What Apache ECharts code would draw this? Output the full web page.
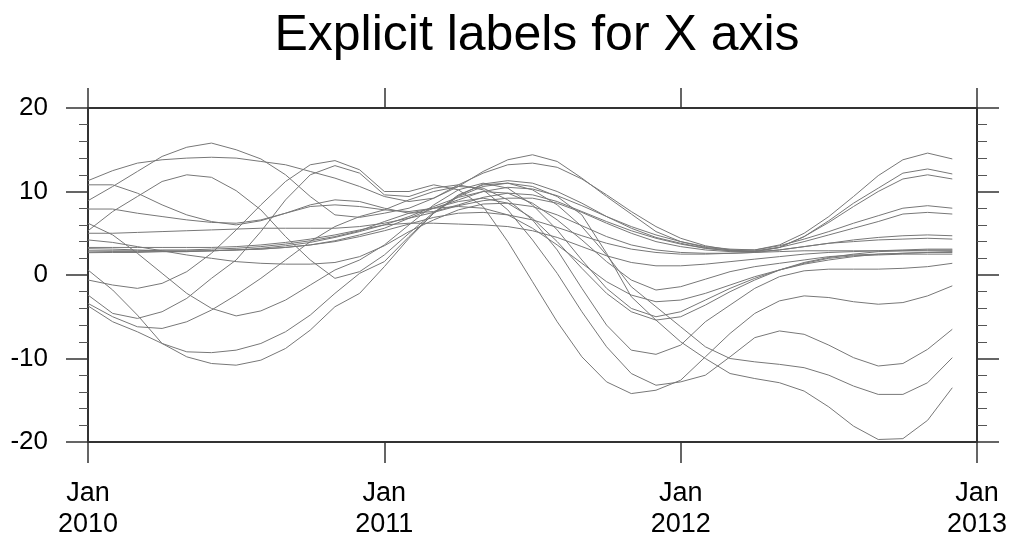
<!DOCTYPE html>
<html>
<head>
<meta charset="utf-8">
<script src="https://cdn.jsdelivr.net/npm/echarts@6/dist/echarts.min.js"></script>
<style>
  html, body { margin: 0; background: #fff; }
  #chart { width: 1016px; height: 544px; }
</style>
</head>
<body>
<div id="chart"></div>
<script>
// x ticks every 12 months, Jan 2010 .. Jan 2013
const tickLabels = ["Jan\n2010", "Jan\n2011", "Jan\n2012", "Jan\n2013"];

// monthly values, Jan 2010 .. Dec 2012 (36 each)
const line01 = [11.3, 12.5, 13.4, 13.8, 14.0, 14.1, 14.0, 13.6, 13.2, 12.4, 11.6, 10.6, 9.4, 8.8, 9.2, 10.6, 12.4, 13.8, 14.4, 13.6, 11.6, 9.4, 7.3, 5.2, 4.0, 3.3, 3.0, 3.0, 3.6, 5.0, 7.0, 9.4, 11.9, 13.8, 14.6, 13.9];
const line02 = [8.9, 10.6, 12.4, 14.2, 15.3, 15.8, 15.0, 13.9, 12.0, 9.4, 7.2, 6.9, 7.4, 8.0, 9.2, 10.8, 12.2, 13.2, 13.4, 12.9, 11.5, 9.6, 7.6, 5.8, 4.4, 3.5, 3.0, 2.8, 3.3, 4.6, 6.5, 8.6, 10.4, 12.2, 12.7, 12.1];
const line03 = [5.3, 7.6, 9.4, 11.2, 12.0, 11.7, 10.1, 7.8, 4.6, 1.8, -0.4, 0.4, 2.4, 5.0, 7.5, 9.5, 10.9, 11.3, 11.0, 10.0, 8.6, 7.0, 5.6, 4.5, 3.8, 3.2, 2.9, 2.8, 3.3, 4.6, 6.3, 8.2, 10.0, 11.5, 12.0, 11.5];
const line04 = [10.8, 10.8, 9.8, 8.4, 7.2, 6.4, 6.0, 6.5, 7.4, 8.2, 8.4, 8.2, 7.8, 7.6, 8.0, 9.0, 10.0, 10.5, 10.3, 9.5, 8.3, 7.0, 5.8, 4.8, 4.0, 3.4, 3.1, 3.0, 3.5, 4.3, 5.2, 6.2, 7.1, 8.0, 8.3, 8.0];
const line05 = [7.9, 7.9, 7.4, 7.0, 6.6, 6.3, 6.2, 6.6, 7.4, 8.4, 9.0, 8.8, 8.0, 7.4, 7.6, 8.4, 9.3, 9.8, 9.6, 8.8, 7.6, 6.4, 5.3, 4.4, 3.7, 3.2, 2.9, 2.9, 3.3, 4.0, 4.8, 5.6, 6.4, 7.3, 7.5, 7.3];
const line06 = [5.0, 5.0, 5.1, 5.2, 5.3, 5.4, 5.5, 5.6, 5.6, 5.6, 5.6, 5.8, 6.2, 6.8, 7.5, 8.3, 8.9, 9.2, 9.2, 8.6, 7.5, 6.2, 5.0, 4.0, 3.4, 3.0, 2.8, 2.8, 3.0, 3.4, 3.8, 4.2, 4.5, 4.7, 4.8, 4.7];
const line07 = [4.2, 3.9, 3.4, 2.9, 2.4, 2.0, 1.6, 1.4, 1.3, 1.3, 1.5, 2.2, 3.5, 5.2, 6.6, 7.8, 8.5, 8.6, 8.2, 7.2, 5.9, 4.6, 3.6, 3.0, 2.7, 2.6, 2.6, 2.7, 3.0, 3.4, 3.8, 4.0, 4.2, 4.3, 4.4, 4.3];
const line08 = [3.3, 3.3, 3.3, 3.3, 3.3, 3.3, 3.4, 3.6, 3.9, 4.3, 4.8, 5.4, 6.0, 6.2, 6.2, 6.1, 6.0, 5.8, 5.3, 4.5, 3.4, 2.3, 1.5, 1.1, 1.1, 1.3, 1.6, 1.9, 2.2, 2.5, 2.7, 2.8, 2.9, 3.0, 3.1, 3.1];
const line09 = [3.15, 3.1, 3.0, 2.9, 2.9, 2.9, 3.0, 3.1, 3.3, 3.6, 4.0, 4.6, 5.3, 6.1, 6.9, 7.4, 7.5, 7.2, 6.6, 5.7, 4.7, 3.8, 3.1, 2.7, 2.5, 2.5, 2.6, 2.7, 2.8, 2.9, 2.9, 2.9, 2.9, 2.9, 2.9, 2.9];
const line10 = [2.75, 2.8, 2.8, 2.8, 2.8, 2.9, 3.0, 3.2, 3.5, 3.9, 4.5, 5.2, 6.0, 7.0, 8.2, 9.3, 10.0, 9.8, 8.6, 6.6, 4.2, 1.6, -0.6, -1.8, -1.4, -0.5, 0.4, 1.0, 1.4, 1.8, 2.2, 2.4, 2.5, 2.6, 2.7, 2.7];
const line11 = [6.2, 4.8, 2.6, 0.2, -2.2, -4.0, -4.9, -4.3, -3.0, -1.2, 0.6, 1.8, 3.6, 6.0, 8.4, 10.2, 11.0, 10.4, 8.4, 5.4, 1.8, -1.6, -4.0, -5.0, -4.4, -3.0, -1.6, -0.4, 0.6, 1.4, 2.0, 2.3, 2.4, 2.5, 2.5, 2.5];
const line12 = [-3.4, -5.0, -6.2, -6.4, -5.6, -4.2, -2.4, -0.4, 1.8, 4.0, 5.8, 7.0, 7.8, 9.0, 10.0, 10.6, 10.4, 9.0, 6.6, 3.0, -1.6, -6.0, -9.0, -9.5, -8.4, -5.6, -3.6, -1.6, -0.2, 0.5, 0.7, 0.7, 0.7, 0.8, 1.0, 1.4];
const line13 = [-0.6, -1.2, -1.6, -1.0, 0.4, 2.6, 5.4, 8.4, 11.2, 13.2, 13.7, 12.6, 10.0, 10.0, 10.8, 10.2, 8.2, 4.0, -0.8, -5.6, -9.8, -12.8, -14.2, -13.8, -12.6, -9.8, -7.0, -4.6, -3.1, -2.5, -2.7, -3.2, -3.5, -3.3, -2.5, -1.3];
const line14 = [-2.4, -4.6, -5.2, -4.4, -2.8, -0.4, 1.8, 5.2, 9.0, 12.0, 13.1, 12.2, 9.6, 9.4, 10.4, 10.8, 10.2, 7.8, 4.2, 0.2, -4.4, -8.6, -11.8, -13.2, -12.8, -12.0, -9.8, -7.5, -6.7, -7.1, -8.4, -9.9, -10.9, -10.6, -8.9, -6.5];
const line15 = [0.6, -1.8, -4.8, -8.2, -9.8, -10.6, -10.8, -10.2, -8.8, -6.6, -3.8, -2.2, 1.0, 4.4, 7.4, 9.6, 10.8, 11.0, 10.2, 8.4, 5.8, 2.4, -1.4, -3.8, -6.2, -8.6, -10.0, -10.4, -10.7, -11.1, -12.0, -13.3, -14.3, -14.3, -12.9, -9.9];
const line16 = [-3.7, -5.6, -6.8, -8.2, -9.2, -9.3, -9.0, -8.2, -6.8, -4.8, -2.2, 0.2, 1.6, 4.6, 7.4, 9.4, 10.6, 11.0, 10.6, 9.4, 7.2, 2.6, -2.6, -5.4, -8.0, -10.0, -11.8, -12.4, -12.9, -13.9, -15.8, -18.1, -19.7, -19.6, -17.4, -13.5];
const line17 = [2.67, 2.7, 2.7, 2.8, 2.8, 2.9, 3.0, 3.1, 3.3, 3.6, 4.1, 4.8, 5.6, 6.8, 8.0, 8.8, 9.2, 8.6, 6.8, 4.0, 0.8, -2.2, -4.4, -5.4, -5.0, -3.6, -2.0, -0.6, 0.6, 1.5, 2.1, 2.5, 2.8, 2.9, 3.0, 3.0];
const line18 = [2.9, 2.9, 2.9, 3.0, 3.0, 3.1, 3.2, 3.4, 3.7, 4.1, 4.6, 5.3, 6.4, 7.4, 8.0, 8.2, 8.0, 7.2, 5.6, 3.6, 1.4, -0.8, -2.4, -3.2, -3.0, -2.2, -1.2, -0.2, 0.6, 1.3, 1.8, 2.2, 2.5, 2.6, 2.7, 2.8];

const lines = [line01, line02, line03, line04, line05, line06, line07, line08, line09,
  line10, line11, line12, line13, line14, line15, line16, line17, line18];

const chart = echarts.init(document.getElementById("chart"));
const font = "Liberation Sans";
const frame = { show: true, onZero: false, lineStyle: { color: "#333", width: 2 } };
const tickStyle = { color: "#333", width: 1.5 };

const option = {
  animation: false,
  title: {
    text: "Explicit labels for X axis",
    left: 532,
    textAlign: "center",
    top: 6,
    textStyle: { fontFamily: font, fontSize: 50, fontWeight: "normal", color: "#000" }
  },
  grid: { left: 88, right: 39, top: 108, bottom: 102 },
  xAxis: [
    {
      type: "value", position: "bottom", min: 0, max: 36, interval: 12,
      axisLine: frame,
      axisTick: { show: true, inside: false, length: 21, lineStyle: tickStyle },
      splitLine: { show: false },
      axisLabel: {
        margin: 36, fontFamily: font, fontSize: 27, lineHeight: 31, color: "#000",
        formatter: v => tickLabels[Math.round(v / 12)]
      }
    },
    {
      type: "value", position: "top", min: 0, max: 36, interval: 12,
      axisLine: frame,
      axisTick: { show: true, inside: false, length: 20, lineStyle: tickStyle },
      splitLine: { show: false },
      axisLabel: { show: false }
    }
  ],
  yAxis: [
    {
      type: "value", position: "left", min: -20, max: 20, interval: 10,
      axisLine: frame,
      axisTick: { show: true, inside: false, length: 22, lineStyle: tickStyle },
      minorTick: { show: true, splitNumber: 5, length: 9, lineStyle: { color: "#555", width: 1 } },
      splitLine: { show: false },
      minorSplitLine: { show: false },
      axisLabel: { margin: 40, fontFamily: font, fontSize: 26, color: "#000" }
    },
    {
      type: "value", position: "right", min: -20, max: 20, interval: 10,
      axisLine: frame,
      axisTick: { show: true, inside: false, length: 22, lineStyle: tickStyle },
      minorTick: { show: true, splitNumber: 5, length: 10, lineStyle: { color: "#555", width: 1 } },
      splitLine: { show: false },
      minorSplitLine: { show: false },
      axisLabel: { show: false }
    }
  ],
  series: lines.map(d => ({
    type: "line",
    xAxisIndex: 0,
    yAxisIndex: 0,
    data: d.map((v, i) => [i, v]),
    symbol: "none",
    silent: true,
    lineStyle: { color: "#777", width: 1 }
  }))
};

chart.setOption(option);
</script>
</body>
</html>
